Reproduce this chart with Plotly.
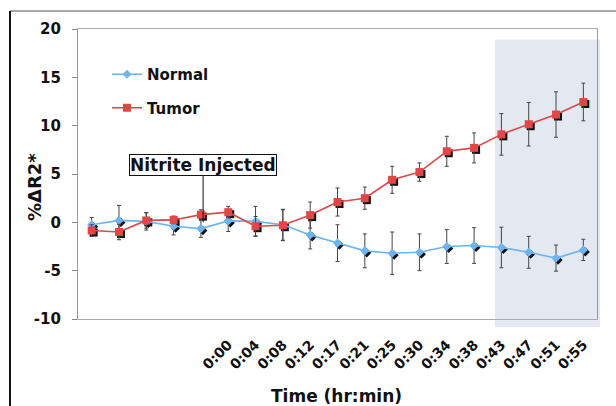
import plotly.graph_objects as go

# ---- data ----
idx = list(range(19))
time_labels = ["", "", "", "", "", "0:00", "0:04", "0:08", "0:12", "0:17", "0:21", "0:25",
               "0:30", "0:34", "0:38", "0:43", "0:47", "0:51", "0:55"]
normal = [-0.25, 0.2, 0.1, -0.4, -0.65, 0.15, 0.1, -0.25, -1.3, -2.15, -2.95, -3.2,
          -3.1, -2.5, -2.4, -2.6, -3.1, -3.7, -2.85]
normal_err = [0.75, 1.55, 0.9, 0.9, 0.9, 1.1, 1.55, 1.6, 1.45, 1.9, 1.75, 2.2,
              1.9, 1.75, 1.85, 2.1, 1.65, 1.35, 1.1]
tumor = [-0.85, -1.0, 0.2, 0.25, 0.8, 1.05, -0.4, -0.3, 0.75, 2.1, 2.5, 4.4,
         5.2, 7.35, 7.7, 9.1, 10.15, 11.15, 12.45]
tumor_err = [0.6, 0.8, 0.8, 0.4, 0.5, 0.6, 1.0, 1.6, 1.35, 1.45, 1.15, 1.4,
             0.95, 1.55, 1.55, 2.15, 2.25, 2.35, 1.95]
y_ticks = [-10, -5, 0, 5, 10, 15, 20]
y_tick_text = ["-10", "-5", "0", "5", "10", "15", "20"]

# ---- geometry ----
W_AREA = 521.0
H_AREA = 292.0
SX = 2 / W_AREA
SY = 2 / H_AREA
XR = [-0.5, 18.5]
YR = [-10, 20]

BLUE = "#6cb4f2"
RED = "#e24646"
FONT = "DejaVu Sans"

fig = go.Figure()

# shadow markers (drawn first, on the base subplot shifted 2px right/down)
fig.add_trace(go.Scatter(x=idx, y=normal, mode="markers", xaxis="x", yaxis="y",
                         marker=dict(symbol="diamond", size=7, color="#111"),
                         showlegend=False, hoverinfo="skip", cliponaxis=False))
fig.add_trace(go.Scatter(x=idx, y=tumor, mode="markers", xaxis="x", yaxis="y",
                         marker=dict(symbol="square", size=8, color="#111"),
                         showlegend=False, hoverinfo="skip", cliponaxis=False))

# main series
fig.add_trace(go.Scatter(x=idx, y=normal, mode="lines+markers", name="Normal",
                         xaxis="x2", yaxis="y2", legendgroup="n",
                         line=dict(color=BLUE, width=1.6),
                         marker=dict(symbol="diamond", size=7, color=BLUE),
                         error_y=dict(type="data", array=normal_err, color="#444",
                                      thickness=1, width=2),
                         cliponaxis=False))
fig.add_trace(go.Scatter(x=idx, y=tumor, mode="lines+markers", name="Tumor",
                         xaxis="x2", yaxis="y2", legendgroup="t",
                         line=dict(color=RED, width=1.6),
                         marker=dict(symbol="square", size=8, color=RED),
                         error_y=dict(type="data", array=tumor_err, color="#444",
                                      thickness=1, width=2),
                         cliponaxis=False))

def px2paper_x(px):
    return (px - 78) / W_AREA

def px2paper_y(py):
    return (321 - py) / H_AREA

shapes = [
    # shaded window
    dict(type="rect", xref="paper", yref="paper", layer="below",
         x0=px2paper_x(495), x1=px2paper_x(600), y0=px2paper_y(327), y1=px2paper_y(39.5),
         fillcolor="#e3e8f1", line=dict(width=0)),
    # outer frame (top + left)
    dict(type="line", xref="paper", yref="paper", x0=px2paper_x(10), x1=px2paper_x(616),
         y0=px2paper_y(11), y1=px2paper_y(11), line=dict(color="#555", width=1.2)),
    dict(type="line", xref="paper", yref="paper", x0=px2paper_x(10), x1=px2paper_x(10),
         y0=px2paper_y(11), y1=px2paper_y(410), line=dict(color="#111", width=2)),
]

annotations = [
    dict(text="%ΔR2*", xref="paper", yref="paper", x=px2paper_x(35), y=px2paper_y(187),
         xanchor="center", yanchor="middle",
         textangle=-90, showarrow=False, font=dict(family=FONT, size=18, color="#111", weight="bold")),
    dict(text="Time (hr:min)", xref="paper", yref="paper", x=px2paper_x(336), y=px2paper_y(396),
         xanchor="center", yanchor="middle",
         showarrow=False, font=dict(family=FONT, size=17, color="#111", weight="bold")),
    dict(text="Nitrite Injected", xref="x2", yref="y2", x=4.08, y=0.0,
         ax=0, ay=-57, showarrow=True, arrowhead=0, arrowwidth=1, arrowcolor="#111",
         standoff=0, bordercolor="#111", borderwidth=1, borderpad=0, bgcolor="white",
         font=dict(family=FONT, size=17, color="#111", weight="bold")),
]

fig.update_layout(
    width=616, height=406,
    margin=dict(l=78, r=17, t=29, b=85),
    paper_bgcolor="white", plot_bgcolor="rgba(0,0,0,0)",
    showlegend=True,
    legend=dict(x=px2paper_x(107), y=px2paper_y(58), xanchor="left", yanchor="top",
                bgcolor="rgba(0,0,0,0)", itemwidth=30, tracegroupgap=11,
                font=dict(family=FONT, size=15, color="#111", weight="bold")),
    shapes=shapes, annotations=annotations,
    # shadow axes (invisible)
    xaxis=dict(domain=[SX, 1], range=XR, visible=False, fixedrange=True),
    yaxis=dict(domain=[0, 1 - SY], range=YR, visible=False, fixedrange=True),
    # main axes
    xaxis2=dict(domain=[0, 1 - SX], range=XR, anchor="y2",
                tickmode="array", tickvals=idx[5:], ticktext=time_labels[5:],
                tickangle=-45, ticks="", ticklabelstandoff=11,
                tickfont=dict(family=FONT, size=14, color="#111", weight="bold"),
                showline=True, linecolor="#aaa", linewidth=1, mirror=True,
                showgrid=False, zeroline=False),
    yaxis2=dict(domain=[SY, 1], range=YR, anchor="x2",
                tickmode="array", tickvals=y_ticks, ticktext=y_tick_text,
                ticks="outside", ticklen=5, tickcolor="#888", ticklabelstandoff=8,
                tickfont=dict(family=FONT, size=15, color="#111", weight="bold"),
                showline=True, linecolor="#999", linewidth=1.2, mirror=True,
                showgrid=False, zeroline=False),
    # zero line with boundary ticks
    xaxis3=dict(overlaying="x2", anchor="free",
                position=SY + (1 - SY) * (0 - YR[0]) / (YR[1] - YR[0]),
                range=XR, tickmode="array", tickvals=[i - 0.5 for i in idx] + [18.5],
                ticks="inside", ticklen=5, tickcolor="#999", showticklabels=False,
                showline=True, linecolor="#999", linewidth=1.5,
                showgrid=False, zeroline=False),
)

fig.write_html("out.html", config={"displayModeBar": False},
               post_script="document.body.style.margin='0';")
